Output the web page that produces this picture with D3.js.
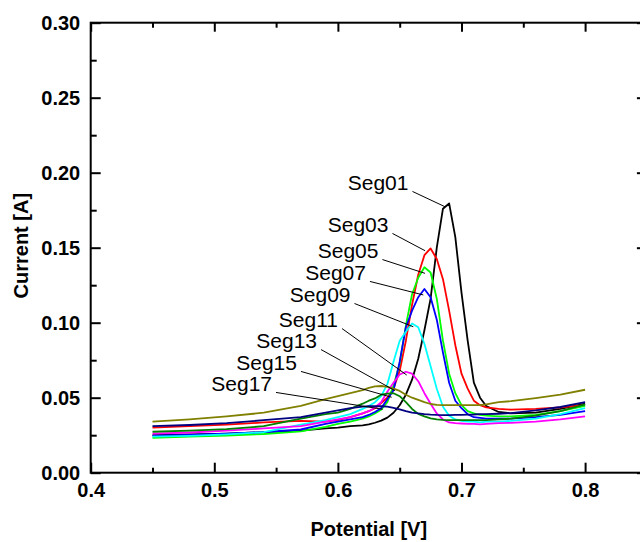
<!DOCTYPE html>
<meta charset='utf-8'>
<head>
    <title>Segments</title>
    <script src='https://cdn.jsdelivr.net/npm/d3@7'></script>
</head>

<style>
    body { margin: 0; background: #fff; }
    svg { display: block; font-family: 'Liberation Sans', Arial, sans-serif; }
    .tick text { font-size: 20px; font-weight: bold; fill: #000; }
    .tick line { stroke: #000; stroke-width: 2px; }
    .axis-title { font-size: 20px; font-weight: bold; }
    .seg-label { font-size: 21px; }
    .curve { fill: none; stroke-width: 1.8px; stroke-linejoin: round; }
    .leader { stroke: #000; stroke-width: 1px; }
</style>

<svg></svg>

<script>

    // potential (V), shared by all segments
    var potential = [0.45, 0.48, 0.51, 0.54, 0.57, 0.59, 0.60, 0.61, 0.62, 0.625, 0.63, 0.635, 0.64, 0.645,
        0.65, 0.655, 0.66, 0.665, 0.67, 0.675, 0.68, 0.685, 0.69, 0.695, 0.70, 0.705, 0.71, 0.715,
        0.72, 0.73, 0.74, 0.76, 0.78, 0.80];

    // current (A) per segment
    var seg01 = [0.025, 0.0255, 0.026, 0.027, 0.028, 0.0295, 0.030, 0.031, 0.0316, 0.0322, 0.0333, 0.0347, 0.0367, 0.040,
        0.045, 0.052, 0.062, 0.076, 0.095, 0.116, 0.150, 0.176, 0.1795, 0.157, 0.120, 0.088, 0.060, 0.050,
        0.0445, 0.0405, 0.0396, 0.040, 0.0425, 0.046];
    var seg03 = [0.030, 0.031, 0.032, 0.0335, 0.0345, 0.034, 0.035, 0.037, 0.0395, 0.041, 0.043, 0.0465, 0.050, 0.056,
        0.068, 0.088, 0.112, 0.132, 0.145, 0.1495, 0.1425, 0.129, 0.108, 0.085, 0.066, 0.056, 0.048, 0.045,
        0.0435, 0.0425, 0.042, 0.0425, 0.0435, 0.045];
    var seg05 = [0.0233, 0.024, 0.0248, 0.0258, 0.0275, 0.0305, 0.0325, 0.034, 0.036, 0.0375, 0.0395, 0.042, 0.047, 0.058,
        0.073, 0.098, 0.119, 0.130, 0.137, 0.1335, 0.116, 0.088, 0.066, 0.053, 0.045, 0.041, 0.0395, 0.0385,
        0.038, 0.0375, 0.0375, 0.0385, 0.041, 0.0445];
    var seg07 = [0.0247, 0.0252, 0.026, 0.027, 0.0288, 0.0325, 0.034, 0.0355, 0.037, 0.0385, 0.0405, 0.043, 0.049, 0.055,
        0.074, 0.097, 0.108, 0.117, 0.1225, 0.117, 0.102, 0.080, 0.060, 0.048, 0.043, 0.039, 0.037, 0.0365,
        0.036, 0.036, 0.036, 0.037, 0.0385, 0.041];
    var seg09 = [0.024, 0.0245, 0.0255, 0.027, 0.032, 0.035, 0.037, 0.039, 0.0425, 0.0445, 0.047, 0.051, 0.059, 0.074,
        0.088, 0.094, 0.0995, 0.097, 0.086, 0.071, 0.056, 0.044, 0.038, 0.0355, 0.0345, 0.034, 0.034, 0.0335,
        0.034, 0.034, 0.0345, 0.036, 0.039, 0.043];
    var seg11 = [0.026, 0.0268, 0.028, 0.0295, 0.031, 0.034, 0.0355, 0.037, 0.0395, 0.041, 0.0435, 0.047, 0.054, 0.060,
        0.0655, 0.0673, 0.066, 0.061, 0.053, 0.046, 0.0395, 0.0355, 0.0335, 0.033, 0.0328, 0.0325, 0.0325, 0.0322,
        0.0325, 0.033, 0.0332, 0.034, 0.0355, 0.0375];
    var seg13 = [0.034, 0.0355, 0.0375, 0.040, 0.0445, 0.049, 0.051, 0.053, 0.055, 0.0565, 0.0575, 0.0578, 0.0572, 0.056,
        0.0545, 0.052, 0.050, 0.0485, 0.047, 0.0458, 0.0452, 0.045, 0.045, 0.045, 0.045, 0.045, 0.045, 0.045,
        0.0455, 0.047, 0.0477, 0.0497, 0.052, 0.0553];
    var seg15 = [0.0273, 0.028, 0.029, 0.031, 0.036, 0.039, 0.040, 0.0425, 0.046, 0.048, 0.0495, 0.052, 0.0527, 0.053,
        0.051, 0.047, 0.0425, 0.0392, 0.0375, 0.0362, 0.0355, 0.0352, 0.035, 0.035, 0.035, 0.035, 0.035, 0.035,
        0.035, 0.0355, 0.036, 0.038, 0.041, 0.0455];
    var seg17 = [0.031, 0.0318, 0.033, 0.035, 0.037, 0.040, 0.0415, 0.043, 0.044, 0.0443, 0.0444, 0.0443, 0.044, 0.0432,
        0.0422, 0.041, 0.040, 0.0395, 0.039, 0.0387, 0.0385, 0.0384, 0.0384, 0.0385, 0.0386, 0.0387, 0.0388, 0.039,
        0.039, 0.0393, 0.0397, 0.0415, 0.0438, 0.047];

    var segNames = ['Seg01', 'Seg03', 'Seg05', 'Seg07', 'Seg09', 'Seg11', 'Seg13', 'Seg15', 'Seg17'];
    var segValues = [seg01, seg03, seg05, seg07, seg09, seg11, seg13, seg15, seg17];
    var segColors = ['#000000', '#ff0000', '#00ff00', '#0000ff', '#00ffff', '#ff00ff', '#808000', '#008000', '#000080'];

    // label text anchor (end, baseline) and leader tip, in data units
    var labelV = [0.6571, 0.6409, 0.6328, 0.6227, 0.6102, 0.6001, 0.5831, 0.5669, 0.5467];
    var labelC = [0.1885, 0.1605, 0.1431, 0.1285, 0.1138, 0.0971, 0.0831, 0.0685, 0.0545];
    var tipV = [0.6867, 0.6705, 0.6705, 0.6691, 0.661, 0.6557, 0.6462, 0.6435, 0.6362];
    var tipC = [0.1773, 0.148, 0.1329, 0.1185, 0.0973, 0.0651, 0.0547, 0.0503, 0.0423];

    var xMajor = [0.4, 0.5, 0.6, 0.7, 0.8];
    var xMinor = [0.45, 0.55, 0.65, 0.75];
    var yMajor = [0, 0.05, 0.10, 0.15, 0.20, 0.25, 0.30];
    var yMinor = [0.025, 0.075, 0.125, 0.175, 0.225, 0.275];

    var vWidth = 640;
    var vHeight = 542;
    var pLeft = 90.7, pRight = 646.9, pTop = 22.7, pBottom = 472.7;

    var svg = d3.select('svg').attr('width', vWidth).attr('height', vHeight);

    var x = d3.scaleLinear().domain([0.4, 0.85]).range([pLeft, pRight]);
    var y = d3.scaleLinear().domain([0, 0.30]).range([pBottom, pTop]);

    // curves
    var line = d3.line()
        .x(function (d) { return x(d[0]); })
        .y(function (d) { return y(d[1]); });

    svg.append('g').selectAll('path')
        .data(segValues)
        .enter().append('path')
        .attr('class', 'curve')
        .attr('stroke', function (d, i) { return segColors[i]; })
        .attr('d', function (vals) {
            return line(potential.map(function (p, j) { return [p, vals[j]]; }));
        });

    // axes, ticks inward
    function addAxis(axisFn, scale, values, size, labels, transform) {
        var a = axisFn(scale).tickValues(values).tickSize(-size).tickSizeOuter(0).tickPadding(10.5);
        if (labels) a.tickFormat(labels);
        else a.tickFormat('');
        var g = svg.append('g').attr('transform', transform).call(a);
        g.select('.domain').remove();
        return g;
    }

    addAxis(d3.axisBottom, x, xMajor, 10, d3.format('.1f'), 'translate(0,' + pBottom + ')');
    addAxis(d3.axisBottom, x, xMinor, 5, null, 'translate(0,' + pBottom + ')');
    addAxis(d3.axisTop, x, xMajor, 9, null, 'translate(0,' + pTop + ')');
    addAxis(d3.axisTop, x, xMinor, 5, null, 'translate(0,' + pTop + ')');
    addAxis(d3.axisLeft, y, yMajor, 10, d3.format('.2f'), 'translate(' + pLeft + ',0)');
    addAxis(d3.axisLeft, y, yMinor, 6, null, 'translate(' + pLeft + ',0)');
    addAxis(d3.axisRight, y, yMajor, 10, null, 'translate(' + pRight + ',0)');
    addAxis(d3.axisRight, y, yMinor, 6, null, 'translate(' + pRight + ',0)');

    // frame
    svg.append('rect')
        .attr('x', pLeft).attr('y', pTop)
        .attr('width', pRight - pLeft).attr('height', pBottom - pTop)
        .attr('fill', 'none').attr('stroke', '#000').attr('stroke-width', 2);

    // segment labels with leader lines
    var ann = svg.append('g').selectAll('g')
        .data(segNames)
        .enter().append('g');

    ann.append('line')
        .attr('class', 'leader')
        .attr('x1', function (d, i) { return x(labelV[i]) + 4; })
        .attr('y1', function (d, i) { return y(labelC[i]) + 1.5; })
        .attr('x2', function (d, i) { return x(tipV[i]); })
        .attr('y2', function (d, i) { return y(tipC[i]); });

    ann.append('text')
        .attr('class', 'seg-label')
        .attr('text-anchor', 'end')
        .attr('x', function (d, i) { return x(labelV[i]); })
        .attr('y', function (d, i) { return y(labelC[i]); })
        .text(function (d) { return d; });

    // axis titles
    svg.append('text')
        .attr('class', 'axis-title')
        .attr('text-anchor', 'middle')
        .attr('x', (pLeft + pRight) / 2)
        .attr('y', 536)
        .text('Potential [V]');

    svg.append('text')
        .attr('class', 'axis-title')
        .attr('text-anchor', 'middle')
        .attr('transform', 'translate(28,' + ((pTop + pBottom) / 2 - 2) + ') rotate(-90)')
        .text('Current [A]');
</script>
